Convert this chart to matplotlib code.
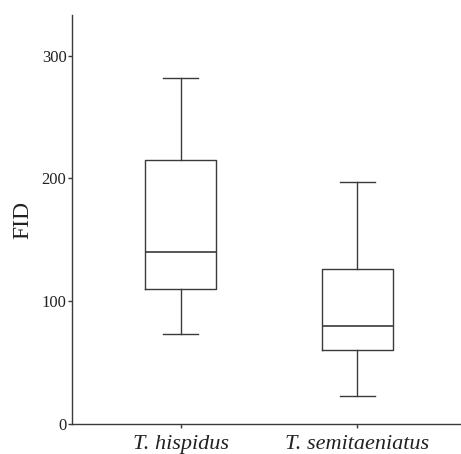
import matplotlib.pyplot as plt
import numpy as np

# FID summary per species (whisker low, Q1, median, Q3, whisker high)
species = ['T. hispidus', 'T. semitaeniatus']
whislo = [73, 22.5]
q1 = [110, 60.5]
med = [140, 80]
q3 = [215, 126.5]
whishi = [282, 197]

stats = []
for i in range(len(species)):
    stats.append({'label': species[i], 'whislo': whislo[i], 'q1': q1[i],
                  'med': med[i], 'q3': q3[i], 'whishi': whishi[i], 'fliers': []})

plt.rcParams['font.family'] = ['Liberation Serif', 'DejaVu Serif']

fig = plt.figure(figsize=(4.61, 4.54), dpi=100, facecolor='white')
ax = fig.add_axes([72/461, 30/454, 389/461, 409/454])

lc = '#3a3a3a'
ax.bxp(stats, positions=[1, 2], widths=0.4, showfliers=False,
       boxprops=dict(color=lc, linewidth=1.0),
       whiskerprops=dict(color=lc, linewidth=1.0),
       capprops=dict(color=lc, linewidth=1.0),
       medianprops=dict(color=lc, linewidth=1.2),
       capwidths=0.2)

ax.set_xlim(0.385, 2.587)
ax.set_ylim(0, 333)
ax.set_yticks([0, 100, 200, 300])
ax.tick_params(axis='y', labelsize=12, length=3, width=1, color=lc, labelcolor='#222222', pad=1)
ax.tick_params(axis='x', length=3, width=1, color=lc, labelcolor='#222222', pad=5)
ax.set_xticks([1, 2])
ax.set_xticklabels(species, fontsize=16, style='italic')
ax.set_ylabel('FID', fontsize=17, labelpad=6, color='#222222')

for s in ['top', 'right']:
    ax.spines[s].set_visible(False)
for s in ['left', 'bottom']:
    ax.spines[s].set_color(lc)
    ax.spines[s].set_linewidth(1.0)

plt.savefig('out.png', dpi=100)
